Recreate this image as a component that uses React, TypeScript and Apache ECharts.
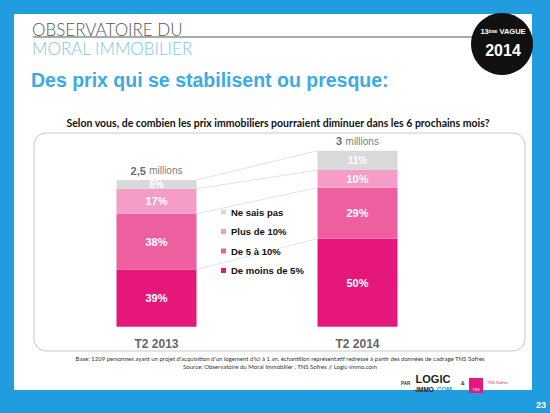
import React, { useEffect, useRef } from "react";
import * as echarts from "echarts";

const categories = ["T2 2013", "T2 2014"];
const totalsMillions = [2.5, 3];
const seriesNames = ["De moins de 5%", "De 5 à 10%", "Plus de 10%", "Ne sais pas"];
const lessThan5 = [39, 50];
const from5to10 = [38, 29];
const moreThan10 = [17, 10];
const dontKnow = [6, 11];
const legendOrder = ["Ne sais pas", "Plus de 10%", "De 5 à 10%", "De moins de 5%"];

const colors = ["#E5177B", "#EE5FA0", "#F59CC8", "#D9D9D9"];
const pctSeries = [lessThan5, from5to10, moreThan10, dontKnow];

const fmtNum = (v: number) => String(v).replace(".", ",");

export default function App() {
  const ref = useRef<HTMLDivElement>(null);
  useEffect(() => {
    document.body.style.margin = "0";
    const chart = echarts.init(ref.current!, null, { renderer: "svg" });

    const scaled = pctSeries.map((arr) => arr.map((p, i) => (p / 100) * totalsMillions[i]));
    const cum: number[][] = [];
    let acc = [0, 0];
    scaled.forEach((s) => {
      acc = [acc[0] + s[0], acc[1] + s[1]];
      cum.push([0, acc[0], acc[1]]);
    });

    const ff = "Liberation Sans, Arial, sans-serif";
    const barSeries = seriesNames.map((name, si) => ({
      name,
      type: "bar",
      stack: "total",
      barWidth: 80,
      z: 3,
      itemStyle: { color: colors[si] },
      label: {
        show: true,
        position: "inside",
        color: "#fff",
        fontWeight: "bold",
        fontFamily: ff,
        fontSize: si === 3 ? 10 : 11,
        formatter: (p: any) => `${pctSeries[si][p.dataIndex]}%`,
      },
      data: scaled[si],
    }));

    const option: any = {
      animation: false,
      grid: { left: 56, right: 92, top: 150.7, bottom: 86.3 },
      xAxis: {
        type: "category",
        data: categories,
        axisLine: { show: false },
        axisTick: { show: false },
        axisLabel: { color: "#666", fontWeight: "bold", fontSize: 12, fontFamily: ff, margin: 11 },
      },
      yAxis: { type: "value", min: 0, max: 3, show: false, splitLine: { show: false } },
      legend: {
        data: legendOrder,
        orient: "vertical",
        left: 216,
        top: 201,
        itemWidth: 5,
        itemHeight: 5,
        itemGap: 7.5,
        icon: "rect",
        textStyle: { color: "#111", fontWeight: "bold", fontSize: 9.5, fontFamily: ff, lineHeight: 12 },
        selectedMode: false,
      },
      series: [
        {
          type: "custom",
          z: 1,
          silent: true,
          encode: { x: 0, y: [1, 2] },
          renderItem: (params: any, api: any) => {
            const a = api.coord([0, api.value(1)]);
            const b = api.coord([1, api.value(2)]);
            return {
              type: "line",
              shape: { x1: a[0] + 40, y1: a[1], x2: b[0] - 40, y2: b[1] },
              style: { stroke: "#e3e3e3", lineWidth: 1 },
            };
          },
          data: cum,
        },
        ...barSeries,
        {
          type: "scatter",
          symbolSize: 1,
          itemStyle: { color: "rgba(0,0,0,0)" },
          silent: true,
          z: 4,
          label: {
            show: true,
            position: "top",
            distance: 3,
            formatter: (p: any) => `{v|${fmtNum(totalsMillions[p.dataIndex])}} {m|millions}`,
            rich: {
              v: { fontWeight: "bold", fontSize: 11, color: "#444", fontFamily: ff },
              m: { fontSize: 10, color: "#555", fontFamily: ff },
            },
          },
          data: totalsMillions.map((t, i) => [i, t]),
        },
      ],
      graphic: [
        { type: "rect", z: -10, shape: { x: 0, y: 0, width: 550, height: 413 }, style: { fill: "#219DDF" } },
        { type: "rect", z: -9, shape: { x: 14, y: 14, width: 518, height: 376 }, style: { fill: "#ffffff" } },
        { type: "rect", z: -8, shape: { x: 34, y: 133, width: 491, height: 218, r: 12 }, style: { fill: "#fff", stroke: "#c9c9c9", lineWidth: 1 } },
        { type: "line", z: -7, shape: { x1: 33, y1: 37, x2: 475, y2: 37 }, style: { stroke: "#555", lineWidth: 1 } },
        { type: "text", style: { x: 32, y: 37.5, text: "OBSERVATOIRE DU", fill: "#555", font: "300 17px Lato, sans-serif", textVerticalAlign: "bottom" } },
        { type: "text", style: { x: 32, y: 57, text: "MORAL IMMOBILIER", fill: "#7CC8DE", font: "300 17px Lato, sans-serif", textVerticalAlign: "bottom" } },
        { type: "circle", shape: { cx: 502, cy: 44, r: 31 }, style: { fill: "#111" } },
        {
          type: "text",
          style: {
            x: 503,
            y: 31,
            text: "{a|13}{s|ÈME}{a| VAGUE}",
            textAlign: "center",
            textVerticalAlign: "middle",
            rich: {
              a: { fill: "#fff", font: "bold 7.5px 'Liberation Sans', sans-serif" },
              s: { fill: "#fff", font: "bold 4px 'Liberation Sans', sans-serif" },
            },
          },
        },
        { type: "text", style: { x: 503, y: 50, text: "2014", fill: "#fff", font: "bold 16px 'Liberation Sans', sans-serif", textAlign: "center", textVerticalAlign: "middle" } },
        { type: "text", style: { x: 31, y: 90, text: "Des prix qui se stabilisent ou presque:", fill: "#3AABE5", font: "bold 19.5px 'Liberation Sans', Arial, sans-serif", textVerticalAlign: "bottom" } },
        { type: "text", style: { x: 278, y: 123, text: "Selon vous, de combien les prix immobiliers pourraient diminuer dans les 6 prochains mois?", fill: "#111", font: "bold 10.5px Lato, sans-serif", textAlign: "center", textVerticalAlign: "middle" } },
        { type: "text", style: { x: 280, y: 358, text: "Base: 1209 personnes ayant un projet d'acquisition d'un logement d'ici à 1 an, échantillon représentatif redressé à partir des données de cadrage TNS Sofres", fill: "#333", font: "6px Lato, sans-serif", textAlign: "center", textVerticalAlign: "middle" } },
        { type: "text", style: { x: 280, y: 366, text: "Source: Observatoire du Moral Immobilier , TNS Sofres // Logic-immo.com", fill: "#333", font: "6px Lato, sans-serif", textAlign: "center", textVerticalAlign: "middle" } },
        { type: "text", style: { x: 401, y: 383, text: "PAR", fill: "#333", font: "bold 4.5px 'Liberation Sans', sans-serif", textVerticalAlign: "middle" } },
        { type: "text", style: { x: 433, y: 379, text: "LOGIC", fill: "#222", font: "bold 11px 'Liberation Sans', sans-serif", textAlign: "center", textVerticalAlign: "middle" } },
        { type: "text", style: { x: 414, y: 389, text: "-IMMO", fill: "#222", font: "bold 6.5px 'Liberation Sans', sans-serif", textVerticalAlign: "middle" } },
        { type: "text", style: { x: 435, y: 389, text: ".COM", fill: "#1E9BD7", font: "bold 6.5px 'Liberation Sans', sans-serif", textVerticalAlign: "middle" } },
        { type: "text", style: { x: 461, y: 383, text: "&", fill: "#333", font: "bold 5px 'Liberation Sans', sans-serif", textVerticalAlign: "middle" } },
        { type: "rect", shape: { x: 469, y: 378, width: 14, height: 15 }, style: { fill: "#E6177B" } },
        { type: "text", style: { x: 476, y: 390, text: "TNS", fill: "#fff", font: "3.5px 'Liberation Sans', sans-serif", textAlign: "center", textVerticalAlign: "middle" } },
        { type: "text", style: { x: 487, y: 382, text: "TNS Sofres", fill: "#E6177B", font: "4px 'Liberation Sans', sans-serif", textVerticalAlign: "middle" } },
        { type: "text", style: { x: 546, y: 405, text: "23", fill: "#fff", font: "bold 9px 'Liberation Sans', sans-serif", textAlign: "right", textVerticalAlign: "middle" } },
      ],
    };
    chart.setOption(option);
    return () => chart.dispose();
  }, []);
  return <div ref={ref} style={{ width: 550, height: 413 }} />;
}
